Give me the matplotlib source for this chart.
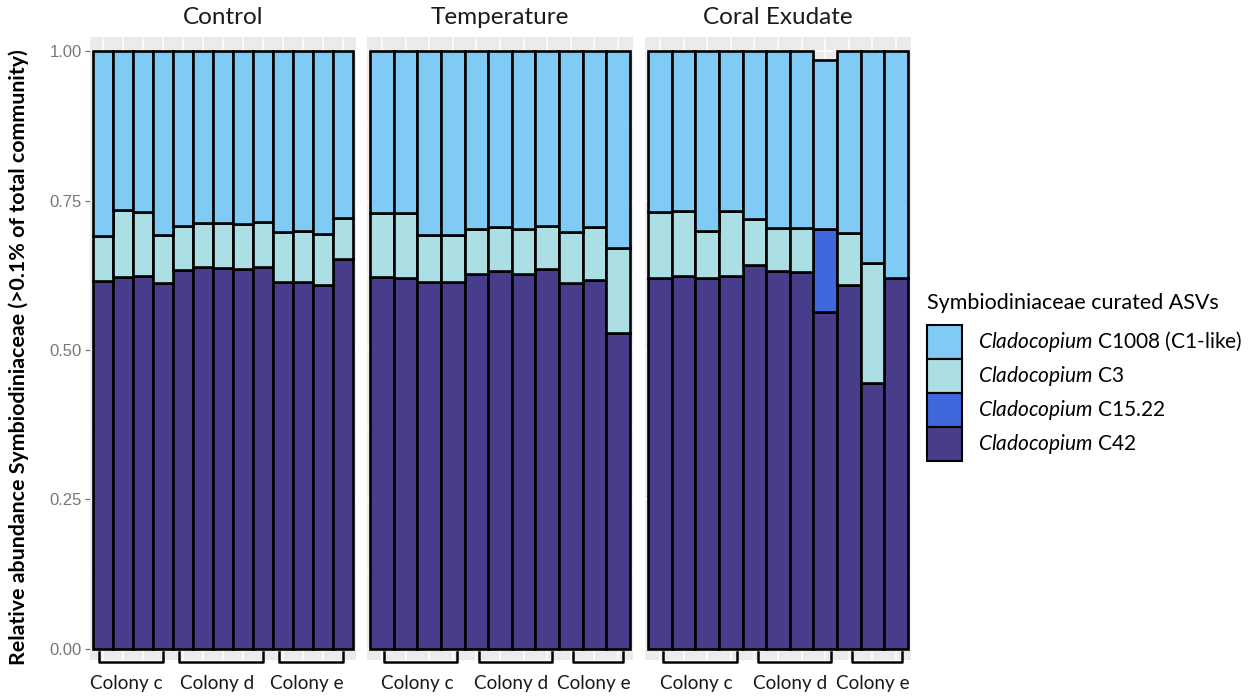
import matplotlib
matplotlib.use("Agg")
import matplotlib.pyplot as plt
from matplotlib.patches import Rectangle
from matplotlib.lines import Line2D
from matplotlib.transforms import blended_transform_factory, offset_copy
import numpy as np

plt.rcParams['font.family'] = ['Lato', 'DejaVu Sans']
plt.rcParams['mathtext.fontset'] = 'custom'
plt.rcParams['mathtext.it'] = 'Lato:italic'
plt.rcParams['mathtext.rm'] = 'Lato'

# ---------------- data ----------------
treatments = ["Control", "Temperature", "Coral Exudate"]
asv_names = ["C1008 (C1-like)", "C3", "C15.22", "C42"]
asv_colors = ["#7FCBF5", "#ACDFE3", "#3F68DD", "#483D8B"]

# Control (13 samples)
control_C42 = [0.615, 0.623, 0.624, 0.612, 0.634, 0.639, 0.637, 0.635, 0.639, 0.613, 0.613, 0.608, 0.653]
control_C15 = [0, 0, 0, 0, 0, 0, 0, 0, 0, 0, 0, 0, 0]
control_C3 = [0.076, 0.111, 0.107, 0.081, 0.074, 0.074, 0.075, 0.076, 0.076, 0.085, 0.087, 0.087, 0.068]
control_C1008 = [0.309, 0.266, 0.269, 0.307, 0.292, 0.287, 0.288, 0.289, 0.285, 0.302, 0.300, 0.305, 0.279]
control_colonies = ["Colony c"] * 4 + ["Colony d"] * 5 + ["Colony e"] * 4

# Temperature (11 samples)
temp_C42 = [0.622, 0.621, 0.614, 0.613, 0.627, 0.633, 0.627, 0.636, 0.612, 0.618, 0.529]
temp_C15 = [0, 0, 0, 0, 0, 0, 0, 0, 0, 0, 0]
temp_C3 = [0.107, 0.109, 0.079, 0.080, 0.075, 0.073, 0.075, 0.071, 0.085, 0.088, 0.141]
temp_C1008 = [0.271, 0.270, 0.307, 0.307, 0.298, 0.294, 0.298, 0.293, 0.303, 0.294, 0.330]
temp_colonies = ["Colony c"] * 4 + ["Colony d"] * 4 + ["Colony e"] * 3

# Coral Exudate (11 samples)
exud_C42 = [0.621, 0.624, 0.620, 0.624, 0.642, 0.633, 0.630, 0.564, 0.609, 0.445, 0.620]
exud_C15 = [0, 0, 0, 0, 0, 0, 0, 0.139, 0, 0, 0]
exud_C3 = [0.110, 0.109, 0.079, 0.109, 0.077, 0.072, 0.075, 0, 0.087, 0.201, 0]
exud_C1008 = [0.269, 0.267, 0.301, 0.267, 0.281, 0.295, 0.295, 0.282, 0.304, 0.354, 0.380]
exud_colonies = ["Colony c"] * 4 + ["Colony d"] * 4 + ["Colony e"] * 3

panels = [
    (control_C1008, control_C3, control_C15, control_C42, control_colonies),
    (temp_C1008, temp_C3, temp_C15, temp_C42, temp_colonies),
    (exud_C1008, exud_C3, exud_C15, exud_C42, exud_colonies),
]

y_ticks = [0.0, 0.25, 0.5, 0.75, 1.0]
y_ticklabels = ["0.00", "0.25", "0.50", "0.75", "1.00"]

# ---------------- figure ----------------
W, H = 1256, 698
fig = plt.figure(figsize=(W / 100, H / 100), dpi=100)
fig.patch.set_facecolor("white")

panel_px = [(90, 356), (367, 633), (645, 911)]
top_px, bot_px = 37, 660
bracket_offsets = [(-0.2, 0.0), (0.1, 0.2), (0.15, 0.25)]

for i, (name, (c1008, c3, c15, c42, colonies)) in enumerate(zip(treatments, panels)):
    l, r = panel_px[i]
    ax = fig.add_axes([l / W, (H - bot_px) / H, (r - l) / W, (bot_px - top_px) / H])
    ax.set_facecolor("#EBEBEB")
    n = len(c42)
    x = np.arange(n)
    # stack bottom-up: C42, C15.22, C3, C1008
    layers = [(np.array(c42), asv_colors[3]), (np.array(c15), asv_colors[2]),
              (np.array(c3), asv_colors[1]), (np.array(c1008), asv_colors[0])]
    bottom = np.zeros(n)
    for vals, col in layers:
        mask = vals > 0
        ax.bar(x[mask], vals[mask], bottom=bottom[mask], width=1.0, color=col,
               edgecolor="black", linewidth=1.9, zorder=3)
        bottom = bottom + vals
    ax.set_xlim(-0.63, n - 0.37)
    ax.set_ylim(-0.019, 1.024)
    ax.set_xticks(x)
    ax.set_xticklabels([])
    ax.set_yticks(y_ticks)
    ax.set_yticks([0.125, 0.375, 0.625, 0.875], minor=True)
    ax.grid(True, which="major", color="white", linewidth=1.1, zorder=0)
    ax.grid(True, which="minor", axis="y", color="white", linewidth=0.5, zorder=0)
    ax.set_axisbelow(True)
    ax.tick_params(axis="x", length=0)
    ax.tick_params(axis="y", which="minor", length=0)
    if i == 0:
        ax.set_yticklabels(y_ticklabels, fontsize=12, color="#777777", family="Liberation Sans")
        ax.tick_params(axis="y", which="major", length=3.5, color="#777777", width=0.9, pad=2.5)
    else:
        ax.set_yticklabels([])
        ax.tick_params(axis="y", which="major", length=0)
    for s in ax.spines.values():
        s.set_visible(False)

    # facet title
    ax.text(0.5, (bot_px - 18) / (bot_px - top_px), name, transform=ax.transAxes,
            ha="center", va="center", fontsize=17.5, color="#1a1a1a")

    # colony brackets
    trans = blended_transform_factory(ax.transData, ax.transAxes)
    trans_txt = offset_copy(trans, fig=fig, x=-4, y=0, units="dots")
    y_hi = (bot_px - 652) / (bot_px - top_px)
    y_lo = (bot_px - 662) / (bot_px - top_px)
    y_txt = (bot_px - 683) / (bot_px - top_px)
    groups = []
    for j, c in enumerate(colonies):
        if groups and groups[-1][0] == c:
            groups[-1][2] = j
        else:
            groups.append([c, j, j])
    o1, o2 = bracket_offsets[i]
    for c, a, b in groups:
        xa, xb = a + o1, b + o2
        ax.add_line(Line2D([xa, xa, xb, xb], [y_hi, y_lo, y_lo, y_hi], transform=trans,
                           color="black", linewidth=1.8, clip_on=False, zorder=5))
        ax.text((xa + xb) / 2, y_txt, c, transform=trans_txt, ha="center", va="center",
                fontsize=13.6, color="#1a1a1a")

# y axis label
fig.text(19 / W, 1 - 357 / H, "Relative abundance Symbiodiniaceae (>0.1% of total community)",
         rotation=90, ha="center", va="center", fontsize=15.4, fontweight="bold", color="black")

# legend (ggplot-style, keys stacked)
fig.text(927 / W, 1 - 303 / H, "Symbiodiniaceae curated ASVs", ha="left", va="center",
         fontsize=15.5, color="black")
key_x0, key_w, key_h, key_top = 927, 35, 34, 325
for k, (nm, col) in enumerate(zip(asv_names, asv_colors)):
    y_top = key_top + k * key_h
    fig.patches.append(Rectangle((key_x0 / W, 1 - (y_top + key_h) / H), key_w / W, key_h / H,
                                 transform=fig.transFigure, facecolor=col, edgecolor="black",
                                 linewidth=1.5, figure=fig))
    fig.text(978 / W, 1 - (y_top + key_h / 2) / H, r"$\mathit{Cladocopium}$ " + nm,
             ha="left", va="center", fontsize=15, color="black")

fig.savefig("out.png", dpi=100)
